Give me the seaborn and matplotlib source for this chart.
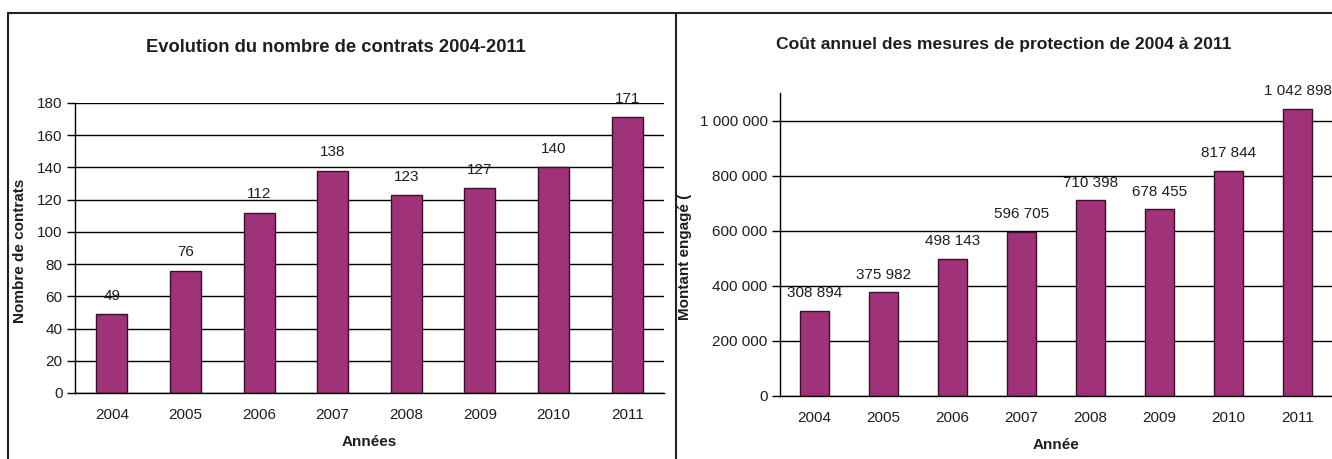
import numpy as np
import pandas as pd
import matplotlib
matplotlib.use('Agg')
import matplotlib.pyplot as plt
import matplotlib.ticker as mticker
from matplotlib.lines import Line2D
import seaborn as sns

# données
annees = ['2004', '2005', '2006', '2007', '2008', '2009', '2010', '2011']
nb_contrats = [49, 76, 112, 138, 123, 127, 140, 171]
cout_annuel = [308894, 375982, 498143, 596705, 710398, 678455, 817844, 1042898]

titre_gauche = 'Evolution du nombre de contrats 2004-2011'
titre_droite = 'Coût annuel des mesures de protection de 2004 à 2011'

sns.set_style('white')
plt.rcParams['font.family'] = ['Liberation Sans', 'DejaVu Sans']
plt.rcParams['text.color'] = '#1e1e1e'
plt.rcParams['axes.labelcolor'] = '#1e1e1e'
plt.rcParams['xtick.color'] = '#1e1e1e'
plt.rcParams['ytick.color'] = '#1e1e1e'

BARRE = '#a0327a'
BORD = '#3b0f2c'


def espace_milliers(v, pos=None):
    return f"{int(round(v)):,}".replace(',', ' ')


def dessiner(ax, valeurs, ymax, pas, xlabel, ylabel, fmt, decal):
    df = pd.DataFrame({'annee': annees, 'valeur': valeurs})
    sns.barplot(data=df, x='annee', y='valeur', ax=ax, color=BARRE,
                width=0.42, edgecolor=BORD, linewidth=1.0, saturation=1)
    ax.set_ylim(0, ymax)
    ax.set_xlim(-0.5, len(annees) - 0.5)
    ax.yaxis.set_major_locator(mticker.MultipleLocator(pas))
    ax.yaxis.set_major_formatter(mticker.FuncFormatter(fmt))
    ax.set_axisbelow(True)
    ax.yaxis.grid(True, color='black', linewidth=1.0)
    for s in ['top', 'right']:
        ax.spines[s].set_visible(False)
    for s in ['left', 'bottom']:
        ax.spines[s].set_color('black')
        ax.spines[s].set_linewidth(1.0)
    # ticks x aux frontières des catégories
    ax.set_xticks(np.arange(-0.5, len(annees), 1.0), minor=True)
    ax.tick_params(axis='x', which='major', length=0, pad=11, labelsize=11)
    ax.tick_params(axis='x', which='minor', length=5, width=1, color='black', direction='out')
    ax.tick_params(axis='y', length=6, width=1, color='black', direction='out', pad=3, labelsize=11)
    ax.tick_params(left=True, bottom=True)
    ax.set_xlabel(xlabel, fontsize=11, fontweight='bold', labelpad=9)
    ax.set_ylabel(ylabel, fontsize=11, fontweight='bold')
    for i, v in enumerate(valeurs):
        ax.text(i, v + decal, fmt(v), ha='center', va='bottom', fontsize=11)


fig = plt.figure(figsize=(13.32, 4.59), dpi=100)
ax1 = fig.add_axes([0.0563, 0.1438, 0.4422, 0.6318])
ax2 = fig.add_axes([0.5856, 0.1373, 0.4144, 0.6601])

dessiner(ax1, nb_contrats, 180, 20, 'Années', 'Nombre de contrats',
         lambda v, pos=None: f"{int(round(v))}", 7)
dessiner(ax2, cout_annuel, 1100000, 200000, 'Année', 'Montant engagé (',
         espace_milliers, 38000)

ax1.yaxis.set_label_coords(-0.081, 0.49)
ax2.yaxis.set_label_coords(-0.16, 0.46)

fig.text(336 / 1332, 1 - 47 / 459, titre_gauche, ha='center', va='center',
         fontsize=13.2, fontweight='bold')
fig.text(1004 / 1332, 1 - 44 / 459, titre_droite, ha='center', va='center',
         fontsize=12.6, fontweight='bold')

# cadres
W, H = 1332, 459
def ligne(x0, y0, x1, y1):
    fig.add_artist(Line2D([x0 / W, x1 / W], [1 - y0 / H, 1 - y1 / H],
                          color='#222222', linewidth=1.5))

ligne(8, 13, 1332, 13)
ligne(8, 13, 8, 459)
ligne(676, 13, 676, 459)

fig.savefig('out.png', dpi=100)
